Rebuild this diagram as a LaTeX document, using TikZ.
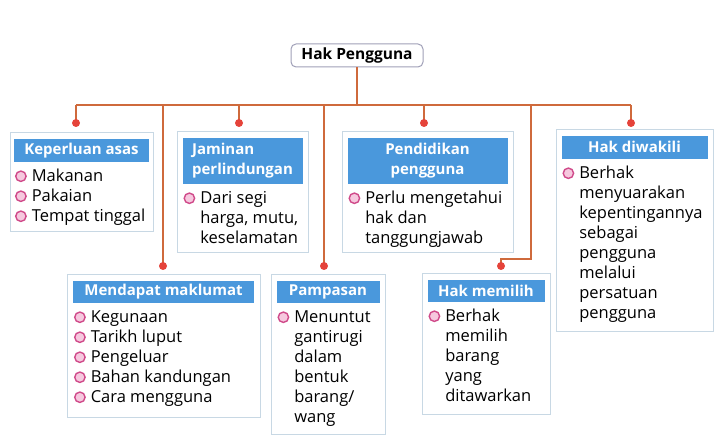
\documentclass[tikz,border=0pt]{standalone}
\usepackage{fontspec}
\setmainfont{Open Sans}
\usepackage{tikz}
\usepackage{xcolor}

\definecolor{biruTajuk}{HTML}{4A98DC}
\definecolor{garisOren}{HTML}{CF6A3C}
\definecolor{titikMerah}{HTML}{E5433A}
\definecolor{tepiKotak}{HTML}{C8D8E4}
\definecolor{tepiAkar}{HTML}{A0A0B8}
\definecolor{cincin}{HTML}{D04A8A}
\definecolor{cincinIsi}{HTML}{F6C8DE}

\newcommand{\bulatan}{\tikz[baseline=-0.55ex]\draw[draw=cincin, fill=cincinIsi, line width=1.4pt] (0,0) circle (5.2pt);}

\tikzset{
  akar/.style={draw=tepiAkar, fill=white, line width=1pt, rounded corners=5pt,
    minimum width=132pt, minimum height=23pt, inner sep=2pt,
    font=\fontsize{15.5}{18}\selectfont\bfseries},
  kotak/.style={draw=tepiKotak, fill=white, line width=1pt, inner sep=0pt},
  tajuk/.style={fill=biruTajuk, text=white, inner sep=2pt, anchor=north,
    font=\fontsize{15}{20}\selectfont\bfseries},
  isi/.style={anchor=north west, inner sep=0pt, font=\fontsize{16.5}{20}\selectfont},
  garis/.style={draw=garisOren, line width=1.2pt},
  titik/.style={fill=titikMerah}
}

\begin{document}
\begin{tikzpicture}[x=1pt, y=-1pt]
\useasboundingbox (0,0) rectangle (723,443);

% akar
\node[akar] (akar) at (357,55.5) {Hak Pengguna};

% baris atas
\node[kotak, minimum width=143pt, minimum height=99pt] (kep) at (81.5,182.5) {};
\node[tajuk, minimum width=135pt, minimum height=23pt] (kepTajuk) at ([yshift=-6pt]kep.north) {Keperluan asas};
\node[isi] (kepIsi) at ([xshift=1pt, yshift=-5pt]kepTajuk.south west) {%
  \begin{tabular}{@{}l@{\hspace{5pt}}l@{}}
  \bulatan & Makanan\\
  \bulatan & Pakaian\\
  \bulatan & Tempat tinggal
  \end{tabular}};

\node[kotak, minimum width=131pt, minimum height=121pt] (jam) at (242.5,192.5) {};
\node[tajuk, minimum width=120pt, minimum height=46pt, align=left] (jamTajuk) at ([yshift=-6pt]jam.north) {Jaminan\\perlindungan};
\node[isi] (jamIsi) at ([xshift=1pt, yshift=-5pt]jamTajuk.south west) {%
  \begin{tabular}{@{}l@{\hspace{5pt}}l@{}}
  \bulatan & Dari segi\\
           & harga, mutu,\\
           & keselamatan
  \end{tabular}};

\node[kotak, minimum width=171pt, minimum height=121pt] (pen) at (427.5,192.5) {};
\node[tajuk, minimum width=160pt, minimum height=46pt, align=center] (penTajuk) at ([yshift=-6pt]pen.north) {Pendidikan\\pengguna};
\node[isi] (penIsi) at ([xshift=1pt, yshift=-5pt]penTajuk.south west) {%
  \begin{tabular}{@{}l@{\hspace{5pt}}l@{}}
  \bulatan & Perlu mengetahui\\
           & hak dan\\
           & tanggungjawab
  \end{tabular}};

\node[kotak, minimum width=157pt, minimum height=202pt] (wak) at (634.5,231) {};
\node[tajuk, minimum width=146pt, minimum height=23pt] (wakTajuk) at ([yshift=-6pt]wak.north) {Hak diwakili};
\node[isi] (wakIsi) at ([xshift=1pt, yshift=-5pt]wakTajuk.south west) {%
  \begin{tabular}{@{}l@{\hspace{5pt}}l@{}}
  \bulatan & Berhak\\
           & menyuarakan\\
           & kepentingannya\\
           & sebagai\\
           & pengguna\\
           & melalui\\
           & persatuan\\
           & pengguna
  \end{tabular}};

% baris bawah
\node[kotak, minimum width=193pt, minimum height=143pt] (men) at (163.5,346.5) {};
\node[tajuk, minimum width=181pt, minimum height=22pt] (menTajuk) at ([yshift=-6pt]men.north) {Mendapat maklumat};
\node[isi] (menIsi) at ([xshift=1pt, yshift=-5pt]menTajuk.south west) {%
  \begin{tabular}{@{}l@{\hspace{5pt}}l@{}}
  \bulatan & Kegunaan\\
  \bulatan & Tarikh luput\\
  \bulatan & Pengeluar\\
  \bulatan & Bahan kandungan\\
  \bulatan & Cara mengguna
  \end{tabular}};

\node[kotak, minimum width=114pt, minimum height=160pt] (pam) at (328,355) {};
\node[tajuk, minimum width=103pt, minimum height=22pt] (pamTajuk) at ([yshift=-6pt]pam.north) {Pampasan};
\node[isi] (pamIsi) at ([xshift=1pt, yshift=-5pt]pamTajuk.south west) {%
  \begin{tabular}{@{}l@{\hspace{5pt}}l@{}}
  \bulatan & Menuntut\\
           & gantirugi\\
           & dalam\\
           & bentuk\\
           & barang/\\
           & wang
  \end{tabular}};

\node[kotak, minimum width=128pt, minimum height=141pt] (mem) at (486,344.5) {};
\node[tajuk, minimum width=117pt, minimum height=22pt] (memTajuk) at ([yshift=-6pt]mem.north) {Hak memilih};
\node[isi] (memIsi) at ([xshift=1pt, yshift=-5pt]memTajuk.south west) {%
  \begin{tabular}{@{}l@{\hspace{5pt}}l@{}}
  \bulatan & Berhak\\
           & memilih\\
           & barang\\
           & yang\\
           & ditawarkan
  \end{tabular}};

% garis penghubung
\coordinate (busKiri) at (76,105);
\coordinate (busKanan) at (631,105);
\coordinate (kepTitik) at (76,123);
\coordinate (jamTitik) at (239,123);
\coordinate (penTitik) at (424,123);
\coordinate (wakTitik) at (631,123);
\coordinate (menTitik) at (163,266);
\coordinate (pamTitik) at (324,266);
\coordinate (memTitik) at (501,266);
\coordinate (memBelok) at (531,259);

\draw[garis] (akar.south) -- (akar.south |- busKiri);
\draw[garis] (busKiri) -- (busKanan);
\draw[garis] (kepTitik |- busKiri) -- (kepTitik);
\draw[garis] (jamTitik |- busKiri) -- (jamTitik);
\draw[garis] (penTitik |- busKiri) -- (penTitik);
\draw[garis] (wakTitik |- busKiri) -- (wakTitik);
\draw[garis] (menTitik |- busKiri) -- (menTitik);
\draw[garis] (pamTitik |- busKiri) -- (pamTitik);
\draw[garis] (memBelok |- busKiri) -- (memBelok) -| (memTitik);

\fill[titik] (kepTitik) circle (4);
\fill[titik] (jamTitik) circle (4);
\fill[titik] (penTitik) circle (4);
\fill[titik] (wakTitik) circle (4);
\fill[titik] (menTitik) circle (4);
\fill[titik] (pamTitik) circle (4);
\fill[titik] (memTitik) circle (4);
\end{tikzpicture}
\end{document}
